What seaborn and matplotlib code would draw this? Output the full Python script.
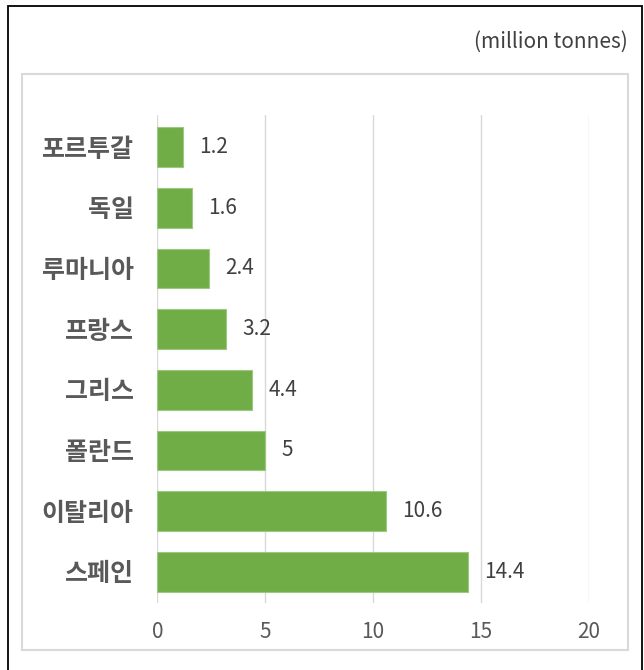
import matplotlib
matplotlib.use("Agg")
import matplotlib.pyplot as plt
import seaborn as sns
import pandas as pd
from matplotlib.patches import Rectangle

countries = ["포르투갈", "독일", "루마니아", "프랑스", "그리스", "폴란드", "이탈리아", "스페인"]
values = [1.2, 1.6, 2.4, 3.2, 4.4, 5, 10.6, 14.4]
value_labels = ["1.2", "1.6", "2.4", "3.2", "4.4", "5", "10.6", "14.4"]
x_ticks = [0, 5, 10, 15, 20]
unit_text = "(million tonnes)"

sns.set_theme(style="white")
plt.rcParams['font.family'] = ['Noto Sans CJK KR', 'DejaVu Sans']

df = pd.DataFrame({"country": countries, "value": values})

fig = plt.figure(figsize=(6.44, 6.70), dpi=100)
W, H = 644, 670
ax = fig.add_axes([157.3 / W, 1 - 602.7 / H, (589 - 157.3) / W, (602.7 - 115) / H])

sns.barplot(data=df, x="value", y="country", orient="h", color="#70AD47",
            width=0.655, saturation=1, edgecolor="#9cc97f", linewidth=0.8, ax=ax)

ax.set_xlim(0, 20)
ax.set_ylim(7.51, -0.53)
ax.set_xticks(x_ticks)
ax.set_xticklabels([str(t) for t in x_ticks])
ax.set_xlabel("")
ax.set_ylabel("")
ax.grid(axis="x", color="#d9d9d9", linewidth=1.0)
ax.grid(axis="y", visible=False)
ax.set_axisbelow(True)
for s in ["top", "right", "bottom", "left"]:
    ax.spines[s].set_visible(False)
ax.tick_params(axis="both", length=0)
ax.tick_params(axis="x", pad=13, labelsize=15, labelcolor="#595959")
ax.tick_params(axis="y", pad=17, labelsize=18, labelcolor="#595959")
for lbl in ax.get_yticklabels():
    lbl.set_fontweight("bold")

ax.bar_label(ax.containers[0], labels=value_labels, padding=11.5,
             fontsize=15, color="#404040")

# inner grey frame
fig.patches.append(Rectangle((22.5 / W, 1 - 650 / H), (628 - 22.5) / W, (650 - 74) / H,
                             transform=fig.transFigure, fill=False,
                             edgecolor="#d9d9d9", linewidth=1.5, zorder=0))
# outer black frame
fig.patches.append(Rectangle((8 / W, -0.05), (642 - 8) / W, 1.05 - 6 / H,
                             transform=fig.transFigure, fill=False,
                             edgecolor="black", linewidth=1.3, zorder=0))

fig.text(628 / W, 1 - 42 / H, unit_text, ha="right", va="center",
         fontsize=15, color="#404040")

fig.savefig("out.png", dpi=100)
